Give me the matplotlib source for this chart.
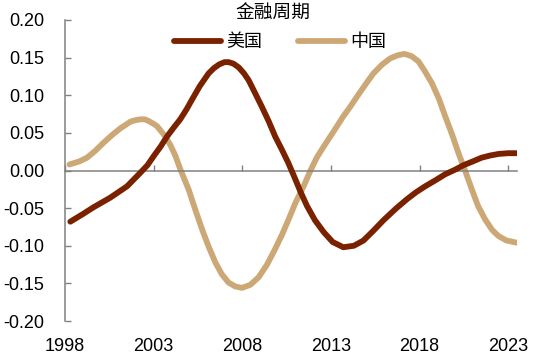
import matplotlib
matplotlib.use('Agg')
import matplotlib.pyplot as plt

plt.rcParams['font.family'] = ['Liberation Sans', 'Noto Sans CJK SC', 'DejaVu Sans']
plt.rcParams['axes.unicode_minus'] = False

# 美国 金融周期 (年份, 数值)
us_years = [1998.3, 1999.0, 1999.6, 2000.56, 2001.5, 2002.25, 2002.65, 2003.0, 2003.4,
            2003.75, 2004.1, 2004.5, 2004.85, 2005.16, 2005.6, 2006.1, 2006.4, 2006.7,
            2007.0, 2007.23, 2007.5, 2007.8, 2008.1, 2008.36, 2008.7, 2009.1, 2009.5,
            2009.86, 2010.25, 2010.6, 2011.0, 2011.3, 2011.65, 2012.1, 2012.6, 2013.1,
            2013.7, 2014.3, 2014.84, 2015.4, 2015.97, 2016.7, 2017.3, 2017.8, 2018.32,
            2018.9, 2019.45, 2020.0, 2020.48, 2021.0, 2021.5, 2022.0, 2022.46, 2023.0,
            2023.5]
us_values = [-0.068, -0.058, -0.049, -0.036, -0.021, -0.003, 0.007, 0.019, 0.032,
             0.045, 0.056, 0.068, 0.081, 0.094, 0.112, 0.129, 0.136, 0.141,
             0.144, 0.144, 0.142, 0.137, 0.129, 0.120, 0.104, 0.085, 0.065,
             0.045, 0.027, 0.010, -0.012, -0.029, -0.047, -0.066, -0.082, -0.095,
             -0.102, -0.100, -0.093, -0.080, -0.066, -0.050, -0.038, -0.029, -0.021,
             -0.013, -0.005, 0.001, 0.007, 0.012, 0.017, 0.020, 0.022, 0.023,
             0.023]

# 中国 金融周期
cn_years = [1998.25, 1998.8, 1999.24, 1999.7, 2000.18, 2000.65, 2001.12, 2001.7, 2002.0,
            2002.25, 2002.5, 2002.7, 2003.0, 2003.19, 2003.6, 2003.94, 2004.22, 2004.5,
            2004.97, 2005.35, 2005.73, 2006.1, 2006.48, 2006.85, 2007.23, 2007.6, 2007.98,
            2008.45, 2008.92, 2009.4, 2009.86, 2010.25, 2010.65, 2011.0, 2011.46, 2011.85,
            2012.2, 2012.6, 2012.96, 2013.35, 2013.7, 2014.1, 2014.47, 2015.0, 2015.4,
            2015.9, 2016.35, 2016.75, 2017.15, 2017.55, 2017.94, 2018.3, 2018.7, 2019.1,
            2019.45, 2019.85, 2020.2, 2020.6, 2020.95, 2021.3, 2021.7, 2022.1, 2022.45,
            2022.9, 2023.5]
cn_values = [0.008, 0.012, 0.017, 0.026, 0.037, 0.047, 0.056, 0.065, 0.067,
             0.068, 0.068, 0.066, 0.062, 0.059, 0.047, 0.034, 0.020, 0.002,
             -0.025, -0.052, -0.078, -0.101, -0.122, -0.138, -0.149, -0.154, -0.156,
             -0.152, -0.142, -0.125, -0.104, -0.085, -0.063, -0.043, -0.021, 0.000,
             0.017, 0.032, 0.045, 0.059, 0.072, 0.085, 0.098, 0.116, 0.129,
             0.141, 0.149, 0.153, 0.155, 0.152, 0.145, 0.132, 0.116, 0.095,
             0.072, 0.047, 0.023, -0.002, -0.025, -0.047, -0.065, -0.079, -0.087,
             -0.093, -0.096]

x_ticks = [1998, 2003, 2008, 2013, 2018, 2023]
y_ticks = [-0.20, -0.15, -0.10, -0.05, 0.00, 0.05, 0.10, 0.15, 0.20]

fig = plt.figure(figsize=(5.5, 3.58), dpi=100)
ax = fig.add_axes([65 / 550, 1 - 321 / 358, (517 - 65) / 550, (321 - 20) / 358])

ax.plot(us_years, us_values, color='#7A2200', lw=4.2, solid_capstyle='round',
        solid_joinstyle='round', label='美国', zorder=3)
ax.plot(cn_years, cn_values, color='#CDA877', lw=4.2, solid_capstyle='round',
        solid_joinstyle='round', label='中国', zorder=2)

ax.set_xlim(1998, 2023.5)
ax.set_ylim(-0.2, 0.2)

# 轴线
for s in ['top', 'right']:
    ax.spines[s].set_visible(False)
ax.spines['bottom'].set_position(('data', 0))
for s in ['bottom', 'left']:
    ax.spines[s].set_color('#808080')
    ax.spines[s].set_linewidth(1.1)

ax.set_yticks(y_ticks)
ax.set_yticklabels([f'{v:.2f}' for v in y_ticks])
ax.tick_params(axis='y', direction='in', length=4.5, width=1, color='#808080',
               labelsize=13, pad=15)
ax.set_xticks(x_ticks)
ax.tick_params(axis='x', direction='in', length=4, width=1, color='#808080',
               labelbottom=False)

# 年份标签放在底部
sec = ax.secondary_xaxis('bottom')
sec.set_xticks(x_ticks)
sec.set_xticklabels([str(y) for y in x_ticks])
sec.spines['bottom'].set_visible(False)
sec.tick_params(length=0, labelsize=13, pad=12)

fig.text(273 / 550, 1 - 14 / 358, '金融周期', ha='center', va='center', fontsize=13.5)
fig.legend(loc='center', bbox_to_anchor=(280 / 550, 1 - 43 / 358), ncol=2, frameon=False,
           fontsize=13, handlelength=2.6, handletextpad=0.3, columnspacing=2.0,
           borderaxespad=0, borderpad=0)

fig.savefig('out.png', dpi=100)
